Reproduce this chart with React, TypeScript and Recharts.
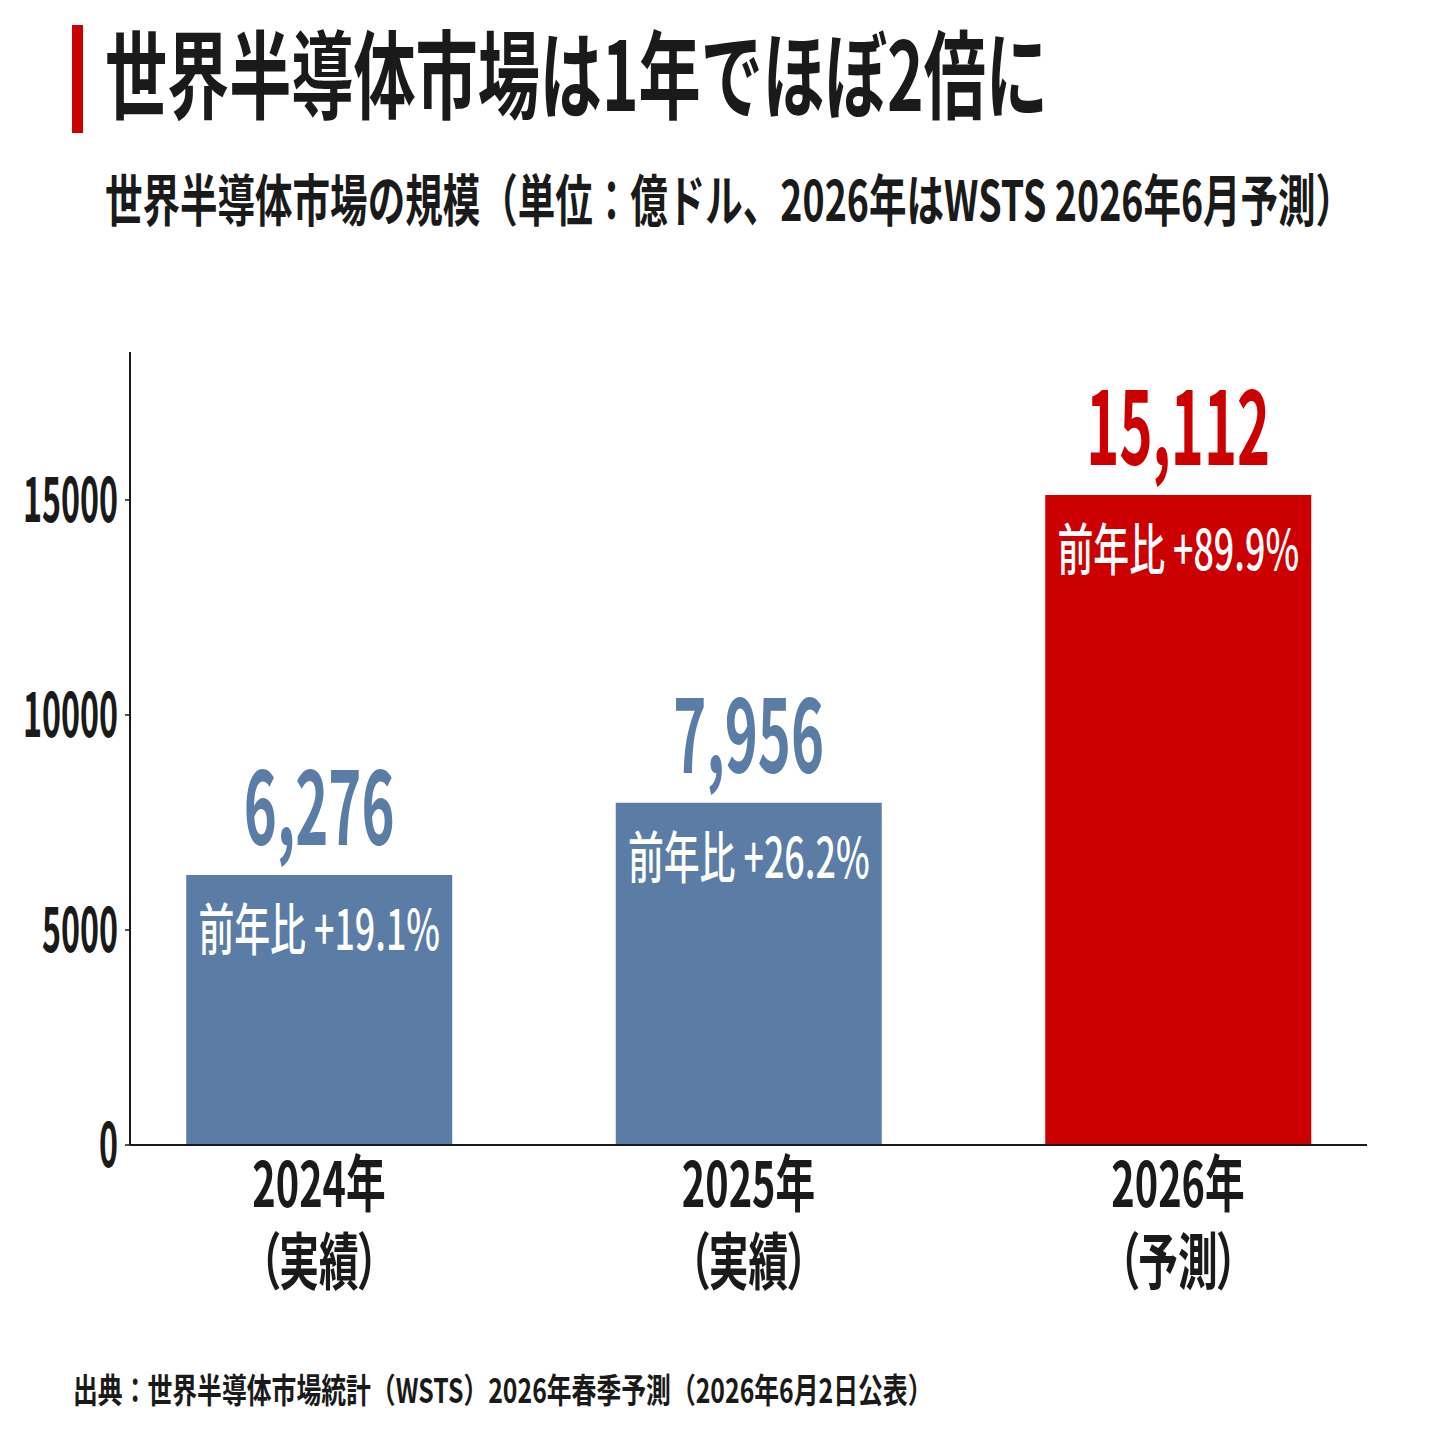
import { BarChart, Bar, XAxis, YAxis, Cell, LabelList } from 'recharts';

const years = ['2024年', '2025年', '2026年'];
const kinds = ['（実績）', '（実績）', '（予測）'];
const marketSize = [6276, 7956, 15112];
const yoyLabels = ['前年比 +19.1%', '前年比 +26.2%', '前年比 +89.9%'];
const yTicks = [0, 5000, 10000, 15000];

const BLUE = '#5b7ca5';
const RED = '#cc0000';
const INK = '#1a1a1a';
const FONT = '"Noto Sans CJK JP", "Noto Sans", sans-serif';

const data = years.map((year, i) => ({
  idx: i,
  year,
  kind: kinds[i],
  value: marketSize[i],
  yoy: yoyLabels[i],
  forecast: i === years.length - 1,
}));

const fmt = (v: number) => v.toLocaleString('en-US');

function YTick({ x, y, payload }: any) {
  return (
    <text
      transform={`translate(${x},${y}) scale(0.52,1)`}
      textAnchor="end"
      dy={22}
      fontSize={62}
      fontWeight={700}
      fontFamily={FONT}
      fill={INK}
    >
      {payload.value}
    </text>
  );
}

// two-line category label: year, then 実績/予測 in parentheses
function XTick({ x, y, payload }: any) {
  const d = data[payload.value];
  if (!d) return null;
  return (
    <text
      transform={`translate(${x},${y}) scale(0.64,1)`}
      textAnchor="middle"
      fontSize={62}
      fontWeight={700}
      fontFamily={FONT}
      fill={INK}
    >
      <tspan x={0} y={54}>{d.year}</tspan>
      <tspan x={0} y={132} style={{ fontFeatureSettings: '"palt"' }}>
        {d.kind}
      </tspan>
    </text>
  );
}

function BarLabels(props: any) {
  const { x, y, width, index } = props;
  const d = data[index];
  const cx = x + width / 2;
  return (
    <g>
      <text
        transform={`translate(${cx},${y - 30}) scale(0.54,1)`}
        textAnchor="middle"
        fontSize={104}
        fontWeight={700}
        fontFamily={FONT}
        fill={d.forecast ? RED : BLUE}
      >
        {fmt(d.value)}
      </text>
      <text
        transform={`translate(${cx},${y + 75}) scale(0.64,1)`}
        textAnchor="middle"
        fontSize={56}
        fontWeight={500}
        fontFamily={FONT}
        fill="#ffffff"
      >
        {d.yoy}
      </text>
    </g>
  );
}

export default function App() {
  return (
    <div style={{ position: 'relative', width: 1440, height: 1440, background: '#fff', fontFamily: FONT }}>
      <style>{`body{margin:0;background:#fff}`}</style>
      <div style={{ position: 'absolute', left: 72, top: 25, width: 11, height: 108, background: RED }} />
      <div
        style={{
          position: 'absolute',
          left: 105,
          top: 22,
          fontSize: 96,
          lineHeight: 1,
          fontWeight: 700,
          color: INK,
          whiteSpace: 'nowrap',
          transform: 'scaleX(0.647)',
          transformOrigin: 'left top',
        }}
      >
        世界半導体市場は1年でほぼ2倍に
      </div>
      <div
        style={{
          position: 'absolute',
          left: 105,
          top: 169,
          fontSize: 56,
          lineHeight: 1,
          fontWeight: 700,
          color: INK,
          whiteSpace: 'nowrap',
          transform: 'scaleX(0.67)',
          transformOrigin: 'left top',
        }}
      >
        世界半導体市場の規模（単位：億ドル、2026年はWSTS 2026年6月予測）
      </div>
      <div style={{ position: 'absolute', left: 0, top: 0 }}>
        <BarChart width={1440} height={1440} data={data} margin={{ top: 352, right: 73, bottom: 95, left: 0 }}>
          <XAxis
            type="number"
            dataKey="idx"
            domain={[-0.44, 2.44]}
            ticks={[0, 1, 2]}
            allowDataOverflow
            height={200}
            tickLine={false}
            axisLine={{ stroke: INK, strokeWidth: 2 }}
            tick={<XTick />}
          />
          <YAxis
            type="number"
            domain={[0, 18440]}
            ticks={yTicks}
            allowDataOverflow
            width={130}
            tickSize={5}
            tickMargin={7}
            tickLine={{ stroke: INK, strokeWidth: 1.5 }}
            axisLine={{ stroke: INK, strokeWidth: 2 }}
            tick={<YTick />}
          />
          <Bar dataKey="value" barSize={266} isAnimationActive={false}>
            {data.map((d) => (
              <Cell key={d.year} fill={d.forecast ? RED : BLUE} />
            ))}
            <LabelList dataKey="value" content={<BarLabels />} />
          </Bar>
        </BarChart>
      </div>
      <div
        style={{
          position: 'absolute',
          left: 73,
          top: 1372,
          fontSize: 34,
          lineHeight: 1,
          fontWeight: 700,
          color: INK,
          whiteSpace: 'nowrap',
          transform: 'scaleX(0.73)',
          transformOrigin: 'left top',
        }}
      >
        出典：世界半導体市場統計（WSTS）2026年春季予測（2026年6月2日公表）
      </div>
    </div>
  );
}
